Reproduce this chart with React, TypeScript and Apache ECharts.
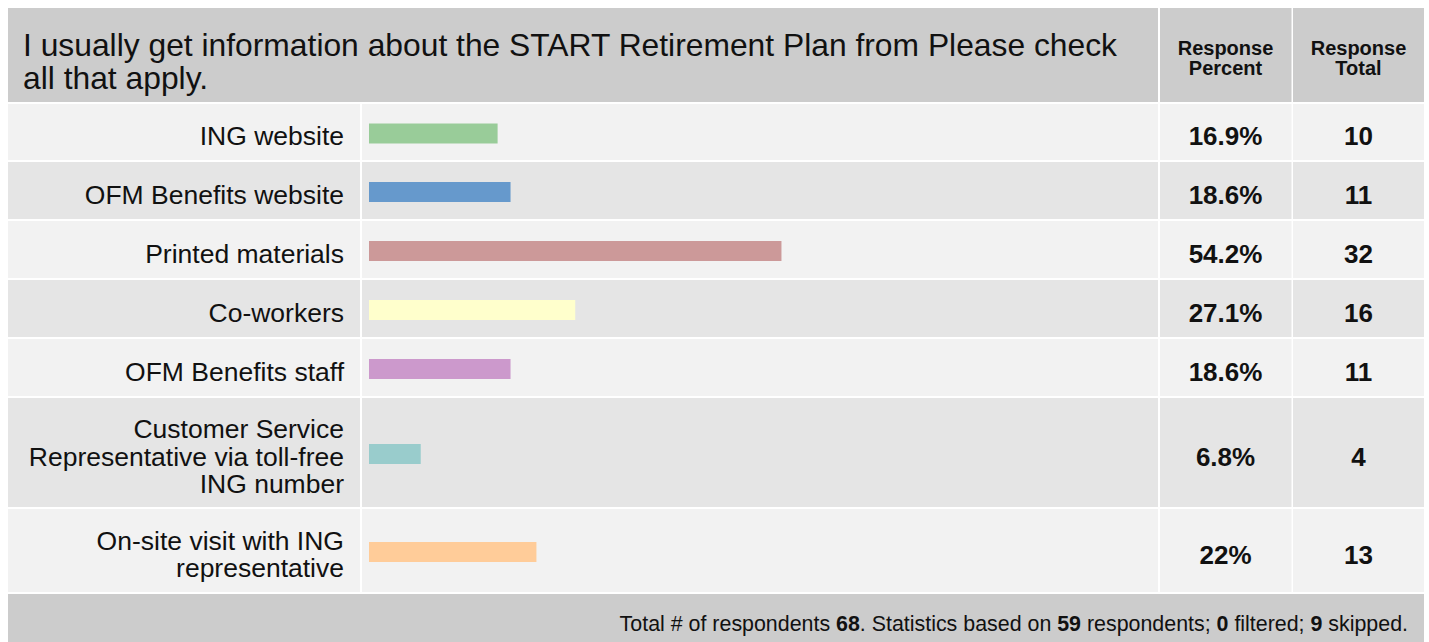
import React, { useEffect, useRef } from "react";
import * as echarts from "echarts";

const TITLE_LINES = [
  "I usually get information about the START Retirement Plan from Please check",
  "all that apply.",
];
const HEADER_PERCENT = "Response\nPercent";
const HEADER_TOTAL = "Response\nTotal";

const categories = [
  "ING website",
  "OFM Benefits website",
  "Printed materials",
  "Co-workers",
  "OFM Benefits staff",
  "Customer Service\nRepresentative via toll-free\nING number",
  "On-site visit with ING\nrepresentative",
];
const percents = [16.9, 18.6, 54.2, 27.1, 18.6, 6.8, 22];
const totals = [10, 11, 32, 16, 11, 4, 13];
const barColors = ["#99cc99", "#6699cc", "#cc9999", "#ffffcc", "#cc99cc", "#99cccc", "#ffcc99"];

const totalRespondents = 68;
const basedOn = 59;
const filtered = 0;
const skipped = 9;

// layout (page pixels)
const ROWS: [number, number][] = [
  [104, 160],
  [162, 219],
  [221, 278],
  [280, 337],
  [339, 396],
  [398, 507],
  [509, 592],
];
const FONT = "'Liberation Sans', Arial, sans-serif";

export default function App() {
  const ref = useRef<HTMLDivElement>(null);
  useEffect(() => {
    if (!ref.current) return;
    const chart = echarts.init(ref.current, null, { renderer: "svg" });
    const graphics: any[] = [];
    // header
    graphics.push({ type: "rect", shape: { x: 8, y: 8, width: 1150, height: 94 }, style: { fill: "#cccccc" }, z: 0 });
    graphics.push({ type: "rect", shape: { x: 1160, y: 8, width: 131.5, height: 94 }, style: { fill: "#cccccc" }, z: 0 });
    graphics.push({ type: "rect", shape: { x: 1293, y: 8, width: 131, height: 94 }, style: { fill: "#cccccc" }, z: 0 });
    graphics.push({
      type: "text", x: 23, y: 61, z: 5,
      style: { text: TITLE_LINES.join("\n"), fontSize: 31.8, fontFamily: FONT, fill: "#111", align: "left", verticalAlign: "middle", lineHeight: 33 },
    });
    graphics.push({
      type: "text", x: 1225.5, y: 58, z: 5,
      style: { text: HEADER_PERCENT, fontSize: 20, fontWeight: "bold", fontFamily: FONT, fill: "#111", align: "center", verticalAlign: "middle", lineHeight: 20 },
    });
    graphics.push({
      type: "text", x: 1358.5, y: 58, z: 5,
      style: { text: HEADER_TOTAL, fontSize: 20, fontWeight: "bold", fontFamily: FONT, fill: "#111", align: "center", verticalAlign: "middle", lineHeight: 20 },
    });
    ROWS.forEach(([t, b], i) => {
      const fill = i % 2 === 0 ? "#f2f2f2" : "#e5e5e5";
      const h = b - t;
      graphics.push({ type: "rect", shape: { x: 8, y: t, width: 352, height: h }, style: { fill }, z: 0 });
      graphics.push({ type: "rect", shape: { x: 362, y: t, width: 796, height: h }, style: { fill }, z: 0 });
      graphics.push({ type: "rect", shape: { x: 1160, y: t, width: 131.5, height: h }, style: { fill }, z: 0 });
      graphics.push({ type: "rect", shape: { x: 1293, y: t, width: 131, height: h }, style: { fill }, z: 0 });
      const cy = (t + b) / 2 + 4;
      graphics.push({
        type: "text", x: 344, y: cy, z: 5,
        style: { text: categories[i], fontSize: 26.5, fontFamily: FONT, fill: "#111", align: "right", verticalAlign: "middle", lineHeight: 27.3 },
      });
      graphics.push({
        type: "text", x: 1225.5, y: cy, z: 5,
        style: { text: `${percents[i]}%`, fontSize: 26, fontWeight: "bold", fontFamily: FONT, fill: "#111", align: "center", verticalAlign: "middle" },
      });
      graphics.push({
        type: "text", x: 1358.5, y: cy, z: 5,
        style: { text: `${totals[i]}`, fontSize: 26, fontWeight: "bold", fontFamily: FONT, fill: "#111", align: "center", verticalAlign: "middle" },
      });
    });
    // footer
    graphics.push({ type: "rect", shape: { x: 8, y: 594, width: 1416, height: 48 }, style: { fill: "#cccccc" }, z: 0 });
    const bold = { fontSize: 21.4, fontWeight: "bold", fontFamily: FONT, fill: "#111" };
    graphics.push({
      type: "text", x: 1408, y: 624, z: 5,
      style: {
        text: `Total # of respondents {b|${totalRespondents}}. Statistics based on {b|${basedOn}} respondents; {b|${filtered}} filtered; {b|${skipped}} skipped.`,
        fontSize: 21.4, fontFamily: FONT, fill: "#111", align: "right", verticalAlign: "middle",
        rich: { b: bold },
      },
    });

    const grid = ROWS.map(([t, b]) => ({ left: 369, width: 761, top: t + 1.5, height: b - t }));
    const xAxis = ROWS.map((_, i) => ({ type: "value", gridIndex: i, min: 0, max: 100, show: false }));
    const yAxis = ROWS.map((_, i) => ({ type: "category", gridIndex: i, data: [categories[i]], show: false }));
    const series = ROWS.map((_, i) => ({
      type: "bar",
      xAxisIndex: i,
      yAxisIndex: i,
      data: [percents[i]],
      barWidth: 20,
      itemStyle: { color: barColors[i] },
      silent: true,
      z: 10,
    }));

    chart.setOption({
      animation: false,
      backgroundColor: "#ffffff",
      grid,
      xAxis,
      yAxis,
      series,
      graphic: { elements: graphics },
    });
    return () => chart.dispose();
  }, []);
  return <div ref={ref} style={{ position: "absolute", left: 0, top: 0, width: 1429, height: 642 }} />;
}
